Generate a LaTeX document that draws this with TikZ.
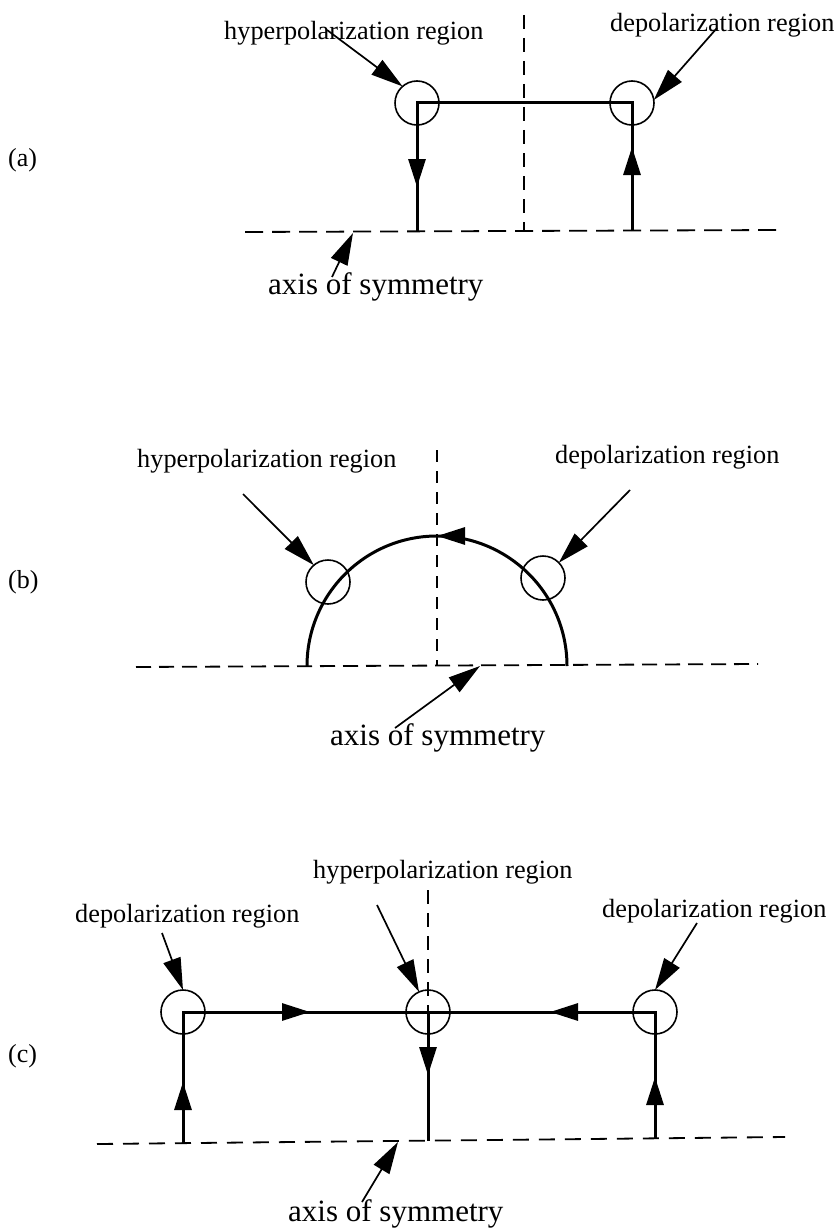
\documentclass[tikz,border=0pt]{standalone}
\usepackage{fontspec}
\setmainfont{Liberation Serif}
\usetikzlibrary{arrows.meta,decorations.markings}
\begin{document}
\begin{tikzpicture}[x=1pt,y=-1pt,
  lbl/.style={font=\fontsize{26.3}{30}\selectfont, anchor=base west, inner sep=0pt},
  axlbl/.style={font=\fontsize{31}{36}\selectfont, anchor=base west, inner sep=0pt},
  plbl/.style={font=\fontsize{26}{30}\selectfont, anchor=base west, inner sep=0pt},
  region/.style={circle, draw, line width=1.6pt, minimum size=44pt, inner sep=0pt, outer sep=0pt},
  axisline/.style={line width=1.8pt, dash pattern=on 18pt off 9pt},
  symline/.style={line width=1.8pt, dash pattern=on 14pt off 9pt},
  flow/.style={line width=3pt, line join=miter},
  ptr/.style={line width=1.7pt, -{Triangle[length=32pt,width=18pt]}},
  fa/.style={postaction={decorate}, decoration={markings,
     mark=at position #1 with {\arrow{Triangle[length=28pt,width=17pt]}}}},
  fb/.style 2 args={postaction={decorate}, decoration={markings,
     mark=at position #1 with {\arrow{Triangle[length=28pt,width=17pt]}},
     mark=at position #2 with {\arrow{Triangle[length=28pt,width=17pt]}}}},
  fc/.style n args={3}{postaction={decorate}, decoration={markings,
     mark=at position #1 with {\arrow{Triangle[length=28pt,width=17pt]}},
     mark=at position #2 with {\arrow{Triangle[length=28pt,width=17pt]}},
     mark=at position #3 with {\arrow{Triangle[length=28pt,width=17pt]}}}},
  ]
\useasboundingbox (0,0) rectangle (839,1228);

% ---------------- (a) ----------------
\node[plbl] (la) at (8,166) {(a)};
\node[lbl] (aHtxt) at (224,40) {hyperpolarization region};
\node[lbl] (aDtxt) at (610,32) {depolarization region};
\node[axlbl] (aAtxt) at (268,294) {axis of symmetry};
\node[region] (aCL) at (417,103) {};
\node[region] (aCR) at (632,103) {};
\coordinate (aFL) at (417,232);
\coordinate (aFR) at (632,231);
\coordinate (aAx1) at (245,232);
\coordinate (aAx2) at (782,230);
\coordinate (aV1) at (524,15);
\coordinate (aV2) at (524,232);
\draw[axisline] (aAx1) -- (aAx2);
\draw[symline] (aV1) -- (aV2);
\draw[flow, fb={84pt}{427pt}] (aFR) -- (aCR.center) -- (aCL.center) -- (aFL);
\coordinate (aHt) at (327,30);
\coordinate (aDt) at (717,28);
\coordinate (aAt) at (332,277);
\coordinate (aAh) at (353,233);
\draw[ptr] (aHt) -- (aCL.131);
\draw[ptr] (aDt) -- (aCR.8);
\draw[ptr] (aAt) -- (aAh);

% ---------------- (b) ----------------
\node[plbl] (lb) at (8,588) {(b)};
\node[lbl] (bHtxt) at (137,467) {hyperpolarization region};
\node[lbl] (bDtxt) at (555,463) {depolarization region};
\node[axlbl] (bAtxt) at (330,745) {axis of symmetry};
\node[region] (bCL) at (328,582) {};
\node[region] (bCR) at (543,578) {};
\coordinate (bAx1) at (136,667);
\coordinate (bAx2) at (758,664);
\coordinate (bV1) at (437,450);
\coordinate (bV2) at (437,666);
\coordinate (bFR) at (567,666);
\draw[line width=1.8pt, dash pattern=on 15pt off 8pt] (bAx1) -- (bAx2);
\draw[line width=1.8pt, dash pattern=on 12pt off 9pt] (bV1) -- (bV2);
\draw[flow, fa={0.5}] (bFR) arc[start angle=0, end angle=180, radius=130pt];
\coordinate (bHt) at (243,494);
\coordinate (bDt) at (630,490);
\coordinate (bAt) at (395,728);
\coordinate (bAh) at (480,666);
\draw[ptr] (bHt) -- (bCL.130);
\draw[ptr] (bDt) -- (bCR.44);
\draw[ptr] (bAt) -- (bAh);

% ---------------- (c) ----------------
\node[plbl] (lc) at (8,1062) {(c)};
\node[lbl] (cHtxt) at (313,878) {hyperpolarization region};
\node[lbl] (cDLtxt) at (75,922) {depolarization region};
\node[lbl] (cDRtxt) at (602,917) {depolarization region};
\node[axlbl] (cAtxt) at (288,1221) {axis of symmetry};
\node[region] (cCL) at (183,1012) {};
\node[region] (cCM) at (428,1012) {};
\node[region] (cCR) at (655,1012) {};
\coordinate (cAx1) at (97,1144);
\coordinate (cAx2) at (785,1137);
\coordinate (cV1) at (428,890);
\coordinate (cFL) at (183,1143);
\coordinate (cFM) at (428,1141);
\coordinate (cFR) at (655,1138);
\draw[line width=1.8pt, dash pattern=on 16pt off 10pt] (cAx1) -- (cAx2);
\draw[symline] (cV1) -- (cCM.center);
\draw[flow, fc={61pt}{258pt}{439pt}] (cFL) -- (cCL.center) -- (cCM.center) -- (cFM);
\draw[flow, fb={61pt}{231pt}] (cFR) -- (cCR.center) -- (cCM.center);
\coordinate (cDLt) at (162,933);
\coordinate (cHt) at (377,905);
\coordinate (cDRt) at (697,923);
\coordinate (cAt) at (362,1202);
\coordinate (cAh) at (398,1142);
\draw[ptr] (cDLt) -- (cCL.90);
\draw[ptr] (cHt) -- (cCM.114);
\draw[ptr] (cDRt) -- (cCR.90);
\draw[ptr] (cAt) -- (cAh);
\end{tikzpicture}
\end{document}
